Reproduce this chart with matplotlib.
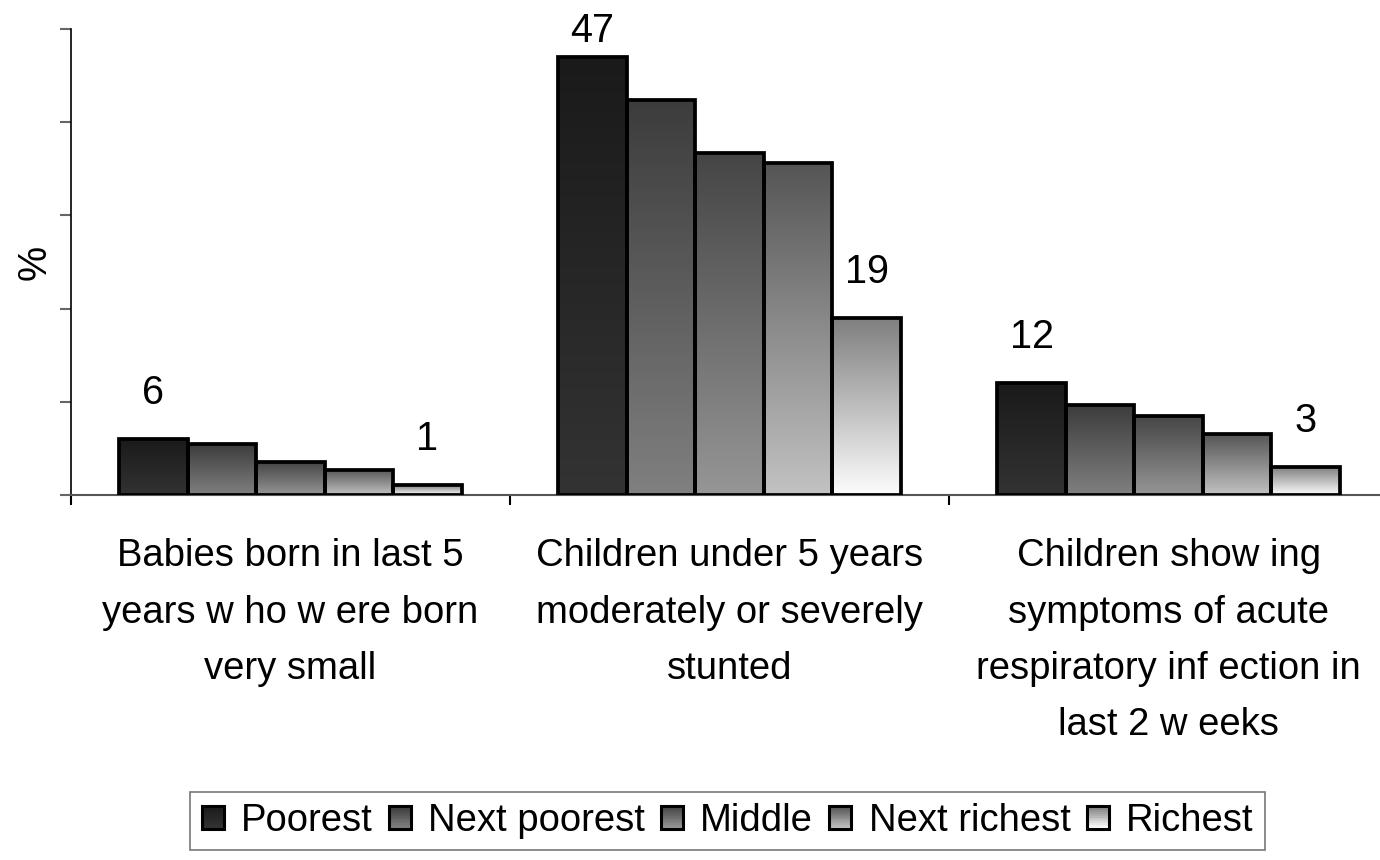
import numpy as np
import matplotlib
matplotlib.use("Agg")
import matplotlib.pyplot as plt
from matplotlib.colors import LinearSegmentedColormap
from matplotlib.legend_handler import HandlerBase
from matplotlib.patches import Rectangle

plt.rcParams['font.family'] = ['Liberation Sans', 'DejaVu Sans']

# ---- data -------------------------------------------------------------
categories = [
    "Babies born in last 5\nyears w ho w ere born\nvery small",
    "Children under 5 years\nmoderately or severely\nstunted",
    "Children show ing\nsymptoms of acute\nrespiratory inf ection in\nlast 2 w eeks",
]
series = ["Poorest", "Next poorest", "Middle", "Next richest", "Richest"]
poorest = [6, 47, 12]
next_poorest = [5.4, 42.4, 9.6]
middle = [3.5, 36.7, 8.5]
next_richest = [2.7, 35.6, 6.5]
richest = [1, 19, 3]
values = [poorest, next_poorest, middle, next_richest, richest]
labelled = [True, False, False, False, True]   # value shown above Poorest and Richest

# vertical gradient per series: (top colour, bottom colour)
gradients = [
    ("#1a1a1a", "#333333"),
    ("#3c3c3c", "#808080"),
    ("#454545", "#969696"),
    ("#555555", "#c2c2c2"),
    ("#7f7f7f", "#fdfdfd"),
]

FS = 27.5
W, H = 1380, 860
fig = plt.figure(figsize=(W / 100, H / 100), dpi=100)
ax = fig.add_axes([70.7 / W, 1 - 494.7 / H, 1317.6 / W, 465.4 / H])

x = np.arange(len(categories))
bw = 0.156
grad = np.linspace(0, 1, 256).reshape(-1, 1)

for i, (name, vals) in enumerate(zip(series, values)):
    offs = (i - (len(series) - 1) / 2) * bw
    bars = ax.bar(x + offs, vals, bw, facecolor="none", edgecolor="black",
                  linewidth=2.7, zorder=3, label=name)
    cmap = LinearSegmentedColormap.from_list(name, [gradients[i][1], gradients[i][0]])
    for p in bars.patches:
        x0, w, h = p.get_x(), p.get_width(), p.get_height()
        im = ax.imshow(grad, extent=(x0, x0 + w, 0, h), cmap=cmap, aspect="auto",
                       origin="lower", interpolation="bilinear", zorder=2)
        im.set_clip_path(p)
    if labelled[i]:
        for xi, v in zip(x + offs, vals):
            ax.text(xi, min(v + 3.75, 48.6), f"{v:g}", ha="center", va="baseline",
                    fontsize=28.5, clip_on=False)

ax.set_xlim(-0.5, 2.5)
ax.set_ylim(0, 50)

# axes styling
for s in ("top", "right"):
    ax.spines[s].set_visible(False)
ax.spines["left"].set_color("black")
ax.spines["left"].set_linewidth(1.2)
ax.spines["bottom"].set_color("#555555")
ax.spines["bottom"].set_linewidth(1.5)

ax.set_yticks(np.arange(0, 51, 10))
ax.set_yticklabels([])
ax.tick_params(axis="y", direction="out", length=8, width=1.5, color="#666666")

ax.set_xticks([-0.5, 0.5, 1.5, 2.5])
ax.set_xticklabels([])
ax.set_xticks(x, minor=True)
ax.set_xticklabels(categories, minor=True, fontsize=FS, linespacing=1.72)
ax.tick_params(axis="x", which="major", direction="out", length=7.5, width=1.5, color="black")
ax.tick_params(axis="x", which="minor", length=0, pad=31.5)

fig.text(35 / W, 1 - 262 / H, "%", rotation=90, ha="center", va="center", fontsize=28.5)


# legend keys drawn as small gradient squares
class GradientKey(HandlerBase):
    def create_artists(self, legend, orig_handle, xdescent, ydescent, width, height,
                       fontsize, trans):
        idx = series.index(orig_handle.get_label())
        top, bottom = gradients[idx]
        cmap = LinearSegmentedColormap.from_list("k", [bottom, top])
        side = min(width, height)
        x0 = -xdescent + (width - side) / 2
        y0 = -ydescent + (height - side) / 2
        n = 12
        arts = []
        for k in range(n):
            r = Rectangle((x0, y0 + side * k / n), side, side / n + 0.3,
                          facecolor=cmap(k / (n - 1)), edgecolor="none", transform=trans)
            arts.append(r)
        arts.append(Rectangle((x0, y0), side, side, facecolor="none", edgecolor="black",
                              linewidth=2.2, transform=trans))
        return arts


handles, labels = ax.get_legend_handles_labels()
leg = fig.legend(handles, labels, loc="center", bbox_to_anchor=(727.5 / W, 1 - 821 / H),
                 ncol=5, fontsize=FS, frameon=True, fancybox=False, shadow=False,
                 handlelength=0.58, handleheight=0.58, handletextpad=0.45,
                 columnspacing=0.42, borderpad=0.3,
                 handler_map={h: GradientKey() for h in handles})
leg.get_frame().set_edgecolor("#555555")
leg.get_frame().set_linewidth(1.2)

fig.savefig("out.png", dpi=100)
